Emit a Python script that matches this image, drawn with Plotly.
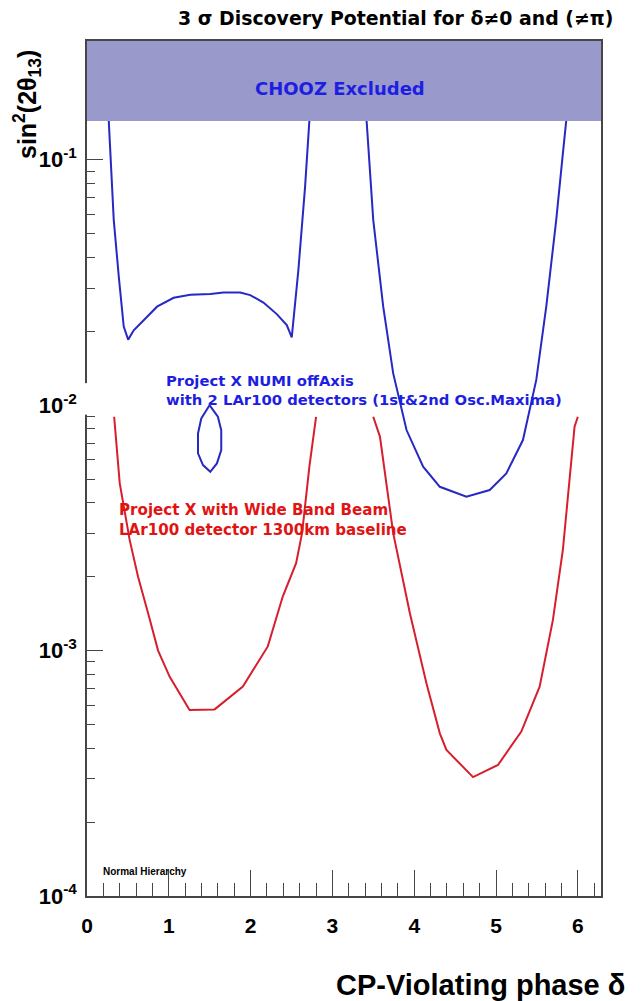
import plotly.graph_objects as go
import math

# ---------------- data ----------------
chooz_limit = 0.144  # sin^2(2theta13) CHOOZ exclusion

numi_left_delta = [0.266, 0.295, 0.327, 0.390, 0.449, 0.503, 0.571, 0.693, 0.856, 1.059,
                   1.263, 1.507, 1.669, 1.873, 1.995, 2.157, 2.320, 2.442, 2.503,
                   2.584, 2.666, 2.718]
numi_left_s2 = [0.144, 0.092, 0.0569, 0.0330, 0.0209, 0.0185, 0.0202, 0.0222, 0.0252, 0.0274,
                0.0282, 0.0284, 0.0288, 0.0288, 0.0281, 0.0262, 0.0235, 0.0212, 0.0189,
                0.0356, 0.0777, 0.144]

numi_right_delta = [3.418, 3.499, 3.621, 3.743, 3.906, 4.109, 4.313, 4.638, 4.923, 5.126,
                    5.329, 5.492, 5.614, 5.736, 5.817, 5.858]
numi_right_s2 = [0.144, 0.0569, 0.0252, 0.01348, 0.00792, 0.00562, 0.00465, 0.00424, 0.00451,
                 0.00527, 0.00721, 0.01268, 0.0252, 0.0569, 0.106, 0.144]

numi_island_delta = [1.498, 1.397, 1.357, 1.357, 1.418, 1.507, 1.588, 1.641, 1.641, 1.600, 1.498]
numi_island_s2 = [0.0100, 0.00883, 0.00767, 0.00636, 0.00570, 0.00535, 0.00579, 0.00656,
                  0.00791, 0.00897, 0.0100]

wbb_left_delta = [0.332, 0.400, 0.522, 0.624, 0.747, 0.869, 1.011, 1.254, 1.560, 1.905,
                  2.210, 2.393, 2.556, 2.629, 2.718, 2.800]
wbb_left_s2 = [0.00897, 0.00481, 0.00282, 0.00200, 0.00142, 0.00100, 0.000782, 0.000573,
               0.000576, 0.000713, 0.00104, 0.00166, 0.00227, 0.00301, 0.00561, 0.00897]

wbb_right_delta = [3.499, 3.581, 3.743, 3.947, 4.150, 4.313, 4.394, 4.719, 5.024, 5.309,
                   5.533, 5.695, 5.817, 5.919, 5.960, 6.000]
wbb_right_s2 = [0.00897, 0.00745, 0.00301, 0.00142, 0.000735, 0.000460, 0.000394, 0.000305,
                0.000342, 0.000468, 0.000713, 0.00133, 0.00257, 0.00561, 0.00817, 0.00897]

y_major = [1e-4, 1e-3, 1e-2, 1e-1]
y_major_text = ["10<sup>-4</sup>", "10<sup>-3</sup>", "10<sup>-2</sup>", "10<sup>-1</sup>"]
x_major = [0, 1, 2, 3, 4, 5, 6]

# ---------------- styling ----------------
FONT = "Liberation Sans, Arial, Helvetica, sans-serif"
WIDE = "DejaVu Sans, Verdana, sans-serif"
BLUE_LINE = "rgb(40,40,195)"
RED_LINE = "rgb(215,30,45)"
BLUE_TXT = "rgb(30,30,225)"
RED_TXT = "rgb(225,20,20)"
AXIS_COL = "rgb(70,70,70)"

y_top_log = -0.516
x_max = 2 * math.pi

fig = go.Figure()
for xs, ys, col in [(numi_left_delta, numi_left_s2, BLUE_LINE),
                    (numi_right_delta, numi_right_s2, BLUE_LINE),
                    (numi_island_delta, numi_island_s2, BLUE_LINE),
                    (wbb_left_delta, wbb_left_s2, RED_LINE),
                    (wbb_right_delta, wbb_right_s2, RED_LINE)]:
    fig.add_trace(go.Scatter(x=xs, y=ys, mode="lines",
                             line=dict(color=col, width=2), showlegend=False,
                             hoverinfo="skip"))

# CHOOZ excluded band
fig.add_shape(type="rect", xref="x", yref="y", x0=0, x1=x_max,
              y0=chooz_limit, y1=10 ** y_top_log,
              fillcolor="rgb(153,153,204)", line=dict(width=0), layer="above")

minor_y = [m * 10 ** e for e in range(-4, 0) for m in range(2, 10)]

fig.update_layout(
    width=644, height=1001,
    margin=dict(l=86.5, r=42.5, t=41, b=105),
    paper_bgcolor="white", plot_bgcolor="white",
    font=dict(family=FONT, color="black"),
    xaxis=dict(range=[0, x_max], showgrid=False, zeroline=False,
               showline=True, linecolor=AXIS_COL, linewidth=1.5, mirror=True,
               ticks="inside", ticklen=26, tickwidth=1.2, tickcolor=AXIS_COL,
               tickvals=x_major,
               tickfont=dict(family=FONT, size=21, color="black", weight="bold"),
               ticklabelstandoff=10,
               minor=dict(ticks="inside", ticklen=13, tickwidth=1.2, tickcolor=AXIS_COL,
                          dtick=0.2, tick0=0, showgrid=False)),
    yaxis=dict(type="log", range=[-4, y_top_log], showgrid=False, zeroline=False,
               showline=True, linecolor=AXIS_COL, linewidth=1.5, mirror=True,
               ticks="inside", ticklen=16, tickwidth=1.2, tickcolor=AXIS_COL,
               tickvals=y_major, ticktext=y_major_text,
               tickfont=dict(family=FONT, size=22, color="black", weight="bold"),
               ticklabelstandoff=4,
               minor=dict(ticks="inside", ticklen=8, tickwidth=1.2, tickcolor=AXIS_COL,
                          tickvals=minor_y, showgrid=False)),
)

# gap in the left axis line (as in reference)
fig.add_shape(type="rect", xref="paper", yref="y", x0=-0.01, x1=0.035,
              y0=0.00915, y1=0.0123, fillcolor="white", line=dict(width=0), layer="above")

annos = [
    dict(text="<b>3 σ Discovery Potential for δ≠0 and (≠π)</b>", xref="paper", yref="paper",
         x=1.027, y=1.0, yshift=23, xanchor="right", yanchor="middle",
         font=dict(family=WIDE, size=18.9, color="black")),
    dict(text="<b>CHOOZ Excluded</b>", xref="x", yref="y", x=3.09, y=-0.708,
         xanchor="center", yanchor="middle", font=dict(family=WIDE, size=18, color=BLUE_TXT)),
    dict(text="<b>Project X NUMI offAxis<br>with 2 LAr100 detectors (1st&2nd Osc.Maxima)</b>",
         xref="x", yref="y", x=0.94, y=-1.938, xanchor="left", yanchor="middle",
         align="left", font=dict(family=WIDE, size=14.8, color=BLUE_TXT)),
    dict(text="<b>Project X with Wide Band Beam<br>LAr100 detector 1300km baseline</b>",
         xref="x", yref="y", x=0.372, y=-2.466, xanchor="left", yanchor="middle",
         align="left", font=dict(family=WIDE, size=15.1, color=RED_TXT)),
    dict(text="<b>Normal Hierarchy</b>", xref="x", yref="y", x=0.17, y=-3.902,
         xanchor="left", yanchor="middle", font=dict(size=10, color="black")),
    dict(text="<b>CP-Violating phase δ</b>", xref="paper", yref="paper",
         x=1.05, y=0, yshift=-89, xanchor="right", yanchor="middle",
         font=dict(size=29, color="black")),
    dict(text="<b>sin<sup>2</sup>(2θ<sub>13</sub>)</b>", xref="paper", yref="paper",
         x=0, xshift=-60, y=1.0, yshift=-64, textangle=-90, xanchor="center",
         yanchor="middle", font=dict(size=25, color="black")),
]
for a in annos:
    a["showarrow"] = False
    fig.add_annotation(**a)

fig.write_html("out.html")
